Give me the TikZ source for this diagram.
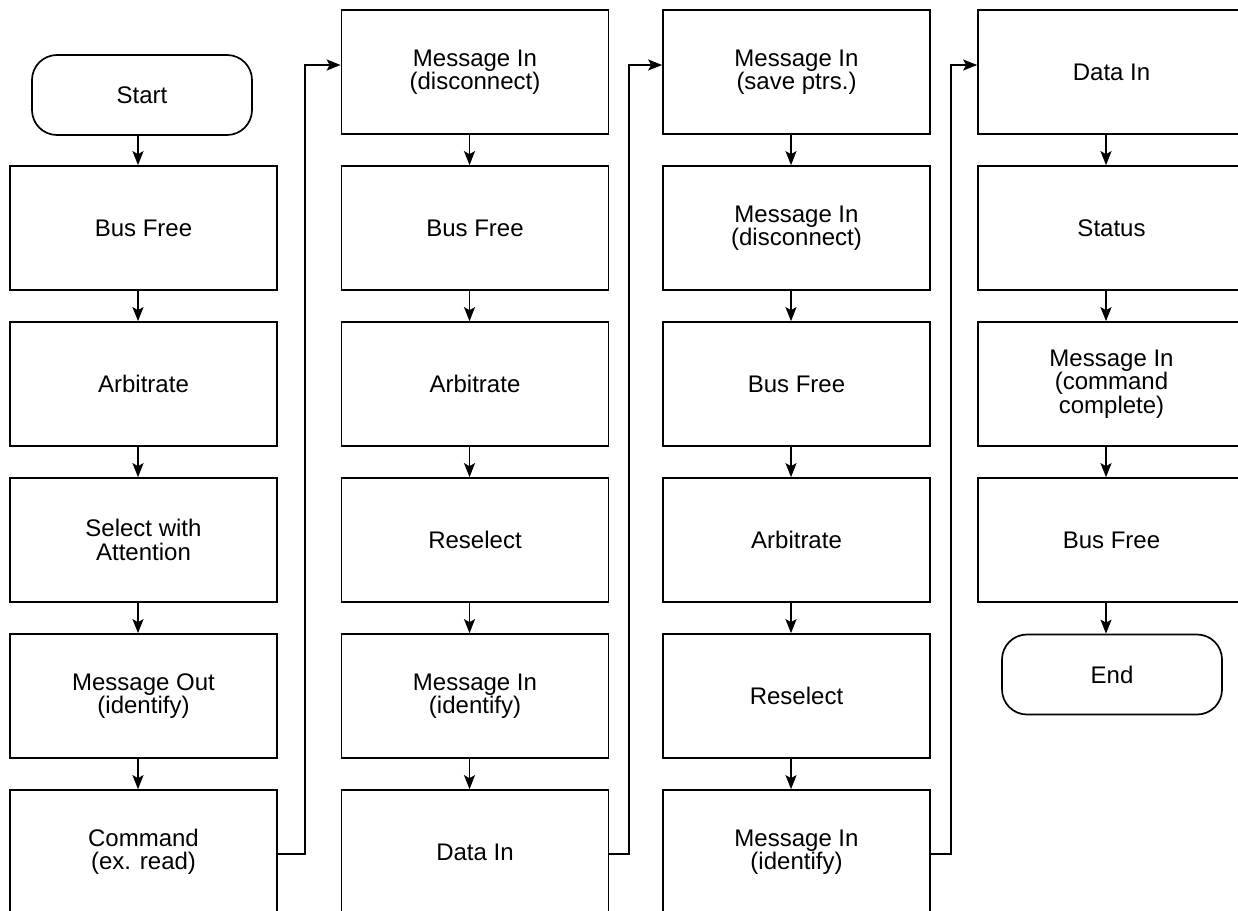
\documentclass[tikz,border=0pt]{standalone}
\usepackage{fontspec}
\setmainfont{Liberation Sans}
\usetikzlibrary{arrows.meta}
\tikzset{
  box/.style={draw, line width=1.7pt, minimum width=267pt, minimum height=124pt, inner sep=0pt, align=center, font=\fontsize{24}{23.5}\selectfont},
  term/.style={box, rounded corners=25pt, minimum width=220pt, minimum height=80pt},
  arr/.style={line width=1.7pt, -{Stealth[length=14pt,width=11pt,inset=3pt]}},
}
\begin{document}
\begin{tikzpicture}[x=1pt,y=-1pt]
\useasboundingbox (0,0) rectangle (1238,910);
\clip (0,0) rectangle (1238,910);
% column 1
\node[term] (start) at (142,95) {Start};
\node[box] (c1r1) at (143.5,228) {Bus Free};
\node[box] (c1r2) at (143.5,384) {Arbitrate};
\node[box] (c1r3) at (143.5,540) {Select with\\Attention};
\node[box] (c1r4) at (143.5,696) {Message Out\\(identify)};
\node[box] (c1r5) at (143.5,852) {Command\\(ex. read)};
% column 2
\node[box] (c2r1) at (475,72) {Message In\\(disconnect)};
\node[box] (c2r2) at (475,228) {Bus Free};
\node[box] (c2r3) at (475,384) {Arbitrate};
\node[box] (c2r4) at (475,540) {Reselect};
\node[box] (c2r5) at (475,696) {Message In\\(identify)};
\node[box] (c2r6) at (475,852) {Data In};
% column 3
\node[box] (c3r1) at (796.5,72) {Message In\\(save ptrs.)};
\node[box] (c3r2) at (796.5,228) {Message In\\(disconnect)};
\node[box] (c3r3) at (796.5,384) {Bus Free};
\node[box] (c3r4) at (796.5,540) {Arbitrate};
\node[box] (c3r5) at (796.5,696) {Reselect};
\node[box] (c3r6) at (796.5,852) {Message In\\(identify)};
% column 4
\node[box] (c4r1) at (1111.5,72) {Data In};
\node[box] (c4r2) at (1111.5,228) {Status};
\node[box] (c4r3) at (1111.5,384) {Message In\\(command\\complete)};
\node[box] (c4r4) at (1111.5,540) {Bus Free};
\node[term] (end) at (1112,674.5) {End};
% arrows within columns
\draw[arr] ([xshift=-5.5pt]c1r1.north |- start.south) -- ([xshift=-5.5pt]c1r1.north);
\foreach \c in {1,2,3}{
  \foreach \r [evaluate=\r as \n using int(\r+1)] in {1,2,3,4}{
    \draw[arr] ([xshift=-5.5pt]c\c r\r.south) -- ([xshift=-5.5pt]c\c r\n.north);
  }
}
\draw[arr] ([xshift=-5.5pt]c2r5.south) -- ([xshift=-5.5pt]c2r6.north);
\draw[arr] ([xshift=-5.5pt]c3r5.south) -- ([xshift=-5.5pt]c3r6.north);
\draw[arr] ([xshift=-5.5pt]c4r1.south) -- ([xshift=-5.5pt]c4r2.north);
\draw[arr] ([xshift=-5.5pt]c4r2.south) -- ([xshift=-5.5pt]c4r3.north);
\draw[arr] ([xshift=-5.5pt]c4r3.south) -- ([xshift=-5.5pt]c4r4.north);
\draw[arr] ([xshift=-5.5pt]c4r4.south) -- ([xshift=-5.5pt]c4r4.south |- end.north);
% connectors between columns
\draw[arr] ([yshift=-2pt]c1r5.east) -| ([xshift=-36pt,yshift=7pt]c2r1.west) -- ([yshift=7pt]c2r1.west);
\draw[arr] ([yshift=-2pt]c2r6.east) -| ([xshift=-33pt,yshift=7pt]c3r1.west) -- ([yshift=7pt]c3r1.west);
\draw[arr] ([yshift=-2pt]c3r6.east) -| ([xshift=-26pt,yshift=7pt]c4r1.west) -- ([yshift=7pt]c4r1.west);
\end{tikzpicture}
\end{document}
